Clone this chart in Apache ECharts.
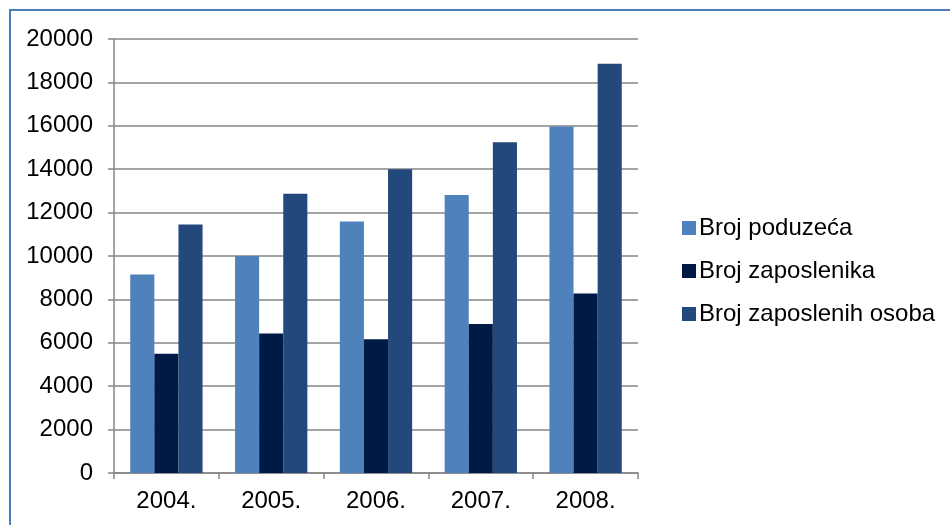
<!DOCTYPE html>
<html>
<head>
<meta charset="utf-8">
<script src="https://cdn.jsdelivr.net/npm/echarts@6/dist/echarts.min.js"></script>
<style>
html,body{margin:0;padding:0;background:#fff;}
#c{width:950px;height:525px;}
</style>
</head>
<body>
<div id="c"></div>
<script>
const categories = ['2004.', '2005.', '2006.', '2007.', '2008.'];
const brojPoduzeca = [9150, 10000, 11590, 12810, 15970];
const brojZaposlenika = [5500, 6430, 6160, 6870, 8270];
const brojZaposlenihOsoba = [11450, 12870, 14000, 15240, 18860];
const seriesNames = ['Broj poduzeća', 'Broj zaposlenika', 'Broj zaposlenih osoba'];
const yTicks = { min: 0, max: 20000, interval: 2000 };

const chart = echarts.init(document.getElementById('c'), null, { renderer: 'canvas' });
const font = '"Liberation Sans", Arial, sans-serif';
const gray = '#868686';
const colors = ['#4F81BD', '#001A46', '#23487C'];

chart.setOption({
  animation: false,
  backgroundColor: '#fff',
  color: colors,
  grid: { left: 114, right: 312, top: 39, bottom: 52, containLabel: false },
  legend: {
    orient: 'vertical',
    left: 677,
    top: 211,
    itemWidth: 14,
    itemHeight: 14,
    itemGap: 19,
    icon: 'rect',
    textStyle: { fontFamily: font, fontSize: 24, color: '#000', lineHeight: 24, padding: [0, 0, 0, -2] },
    data: seriesNames
  },
  xAxis: {
    type: 'category',
    data: categories,
    axisLine: { lineStyle: { color: gray, width: 1.5 } },
    axisTick: { show: true, length: 6, lineStyle: { color: gray, width: 1.5 } },
    axisLabel: { fontFamily: font, fontSize: 24, color: '#000', margin: 16 }
  },
  yAxis: {
    type: 'value',
    min: yTicks.min,
    max: yTicks.max,
    interval: yTicks.interval,
    axisLine: { show: true, lineStyle: { color: gray, width: 1.5 } },
    axisTick: { show: true, length: 6, lineStyle: { color: gray, width: 1.5 } },
    splitLine: { show: true, lineStyle: { color: gray, width: 1.5 } },
    axisLabel: { fontFamily: font, fontSize: 24, color: '#000', margin: 21, formatter: v => String(v) }
  },
  series: [
    { name: seriesNames[0], type: 'bar', data: brojPoduzeca, barGap: '0%', barCategoryGap: '31%' },
    { name: seriesNames[1], type: 'bar', data: brojZaposlenika, barGap: '0%', barCategoryGap: '31%' },
    { name: seriesNames[2], type: 'bar', data: brojZaposlenihOsoba, barGap: '0%', barCategoryGap: '31%' }
  ],
  graphic: [
    {
      type: 'polyline',
      shape: { points: [[10, 525], [10, 10], [950, 10]] },
      style: { stroke: '#4A7EBB', lineWidth: 2, fill: null },
      silent: true
    }
  ]
});
</script>
</body>
</html>
